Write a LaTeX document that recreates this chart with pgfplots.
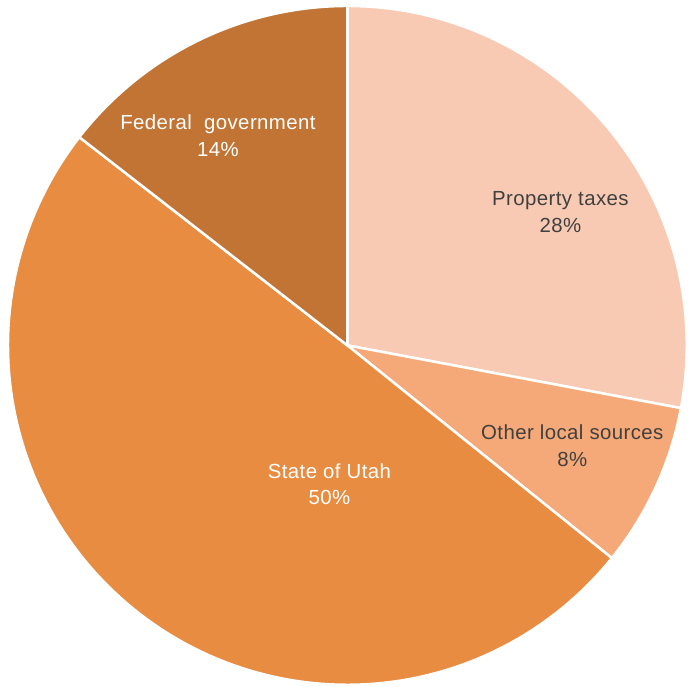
\documentclass[border=0pt]{standalone}
\usepackage{pgfplots}
\pgfplotsset{compat=1.18}
\usepackage{fontspec}
\setmainfont{Liberation Sans}[LetterSpace=2]
\definecolor{cFed}{HTML}{C27434}
\definecolor{cState}{HTML}{E88C41}
\definecolor{cProp}{HTML}{F8CAB3}
\definecolor{cOther}{HTML}{F5A978}
\definecolor{cText}{HTML}{404040}
% shares in percent (clockwise from 12 o'clock)
\def\pProp{27.96}
\def\pOther{7.82}
\def\pState{49.73}
\def\pFed{14.49}
\def\cx{349}
\def\cy{341}
\def\rr{341}
\begin{document}
\begin{tikzpicture}
\begin{axis}[
  x=1pt, y=1pt,
  xmin=0, xmax=688, ymin=0, ymax=688,
  hide axis, clip=false,
  samples=120,
]
\path (rel axis cs:0,0) rectangle (rel axis cs:1,1);
% Property taxes
\addplot[fill=cProp, draw=white, line width=2.5pt, variable=\t,
  domain={90-3.6*\pProp}:{90}]
  ({\cx+\rr*cos(\t)},{\cy+\rr*sin(\t)}) -- (axis cs:\cx,\cy) -- cycle;
% Other local sources
\addplot[fill=cOther, draw=white, line width=2.5pt, variable=\t,
  domain={90-3.6*(\pProp+\pOther)}:{90-3.6*\pProp}]
  ({\cx+\rr*cos(\t)},{\cy+\rr*sin(\t)}) -- (axis cs:\cx,\cy) -- cycle;
% State of Utah
\addplot[fill=cState, draw=white, line width=2.5pt, variable=\t,
  domain={90-3.6*(\pProp+\pOther+\pState)}:{90-3.6*(\pProp+\pOther)}]
  ({\cx+\rr*cos(\t)},{\cy+\rr*sin(\t)}) -- (axis cs:\cx,\cy) -- cycle;
% Federal government
\addplot[fill=cFed, draw=white, line width=2.5pt, variable=\t,
  domain={90-3.6*(\pProp+\pOther+\pState+\pFed)}:{90-3.6*(\pProp+\pOther+\pState)}]
  ({\cx+\rr*cos(\t)},{\cy+\rr*sin(\t)}) -- (axis cs:\cx,\cy) -- cycle;
\node[align=center, text=white, font=\fontsize{20.5}{27}\selectfont] at (axis cs:219,552) {Federal\ \ government\\14\%};
\node[align=center, text=cText, font=\fontsize{20.5}{27}\selectfont] at (axis cs:563,475) {Property taxes\\28\%};
\node[align=center, text=cText, font=\fontsize{20.5}{27}\selectfont] at (axis cs:575,240.5) {Other local sources\\8\%};
\node[align=center, text=white, font=\fontsize{20.5}{27}\selectfont] at (axis cs:331,201.5) {State of Utah\\50\%};
\end{axis}
\end{tikzpicture}
\end{document}
